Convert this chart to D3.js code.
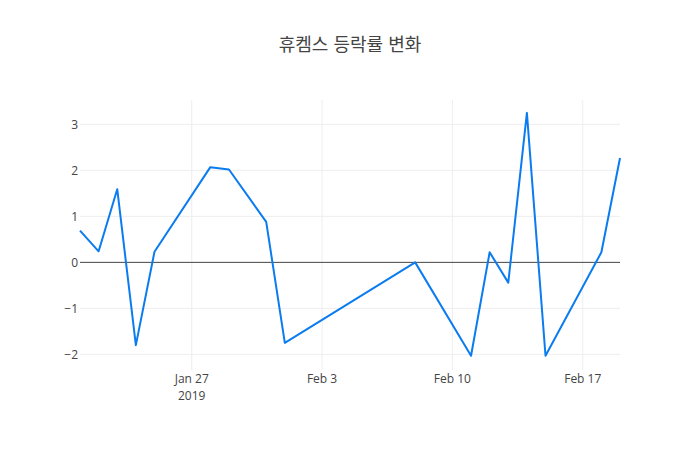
<!DOCTYPE html>
<html lang="ko">
<head>
<meta charset="UTF-8">
<title>휴켐스 등락률 변화</title>
<style>
  body { margin: 0; background: #fff; }
  svg { display: block; font-family: "Open Sans", "Noto Sans CJK KR", sans-serif; }
</style>
<script src="https://d3js.org/d3.v7.min.js"></script>
</head>
<body>
<svg id="chart" width="700" height="450"></svg>
<script>
const dates = ["2019-01-21", "2019-01-22", "2019-01-23", "2019-01-24", "2019-01-25",
  "2019-01-28", "2019-01-29", "2019-01-31", "2019-02-01", "2019-02-08",
  "2019-02-11", "2019-02-12", "2019-02-13", "2019-02-14", "2019-02-15",
  "2019-02-18", "2019-02-19"];
const changes = [0.69, 0.24, 1.59, -1.80, 0.23, 2.07, 2.02, 0.88, -1.75, 0.00,
  -2.03, 0.22, -0.44, 3.25, -2.03, 0.22, 2.27];
const yTicks = [-2, -1, 0, 1, 2, 3];
const xTicks = ["2019-01-27", "2019-02-03", "2019-02-10", "2019-02-17"];
const title = "휴켐스 등락률 변화";

const width = 700, height = 450;
const margin = { top: 100, right: 80, bottom: 80, left: 80 };
const svg = d3.select("#chart");
const parse = d3.timeParse("%Y-%m-%d");
const data = dates.map((d, i) => ({ date: parse(d), value: changes[i] }));

const x = d3.scaleTime()
  .domain(d3.extent(data, d => d.date))
  .range([margin.left, width - margin.right]);
const y = d3.scaleLinear()
  .domain([-2.34, 3.53])
  .range([height - margin.bottom, margin.top]);

// grid
svg.append("g").selectAll("line").data(yTicks.filter(t => t !== 0)).join("line")
  .attr("x1", margin.left).attr("x2", width - margin.right)
  .attr("y1", d => y(d)).attr("y2", d => y(d))
  .attr("stroke", "#eee").attr("stroke-width", 1);
svg.append("g").selectAll("line").data(xTicks.map(parse)).join("line")
  .attr("x1", d => x(d)).attr("x2", d => x(d))
  .attr("y1", margin.top).attr("y2", height - margin.bottom)
  .attr("stroke", "#eee").attr("stroke-width", 1);

// zero line
svg.append("line")
  .attr("x1", margin.left).attr("x2", width - margin.right)
  .attr("y1", y(0)).attr("y2", y(0))
  .attr("stroke", "#444").attr("stroke-width", 1);

// y tick labels
svg.append("g").selectAll("text").data(yTicks).join("text")
  .attr("x", margin.left - 2).attr("y", d => y(d)).attr("dy", "0.35em")
  .attr("text-anchor", "end").attr("font-size", 12).attr("fill", "#444")
  .text(d => d < 0 ? "\u2212" + Math.abs(d) : d);

// x tick labels
const xl = svg.append("g").selectAll("text").data(xTicks.map(parse)).join("text")
  .attr("x", d => x(d)).attr("y", 383)
  .attr("text-anchor", "middle").attr("font-size", 12).attr("fill", "#444");
xl.append("tspan").attr("x", d => x(d)).text(d3.timeFormat("%b %-d"));
xl.filter((d, i) => i === 0).append("tspan")
  .attr("x", d => x(d)).attr("dy", 17).text(d3.timeFormat("%Y"));

// line
const line = d3.line().x(d => x(d.date)).y(d => y(d.value));
svg.append("path").datum(data)
  .attr("d", line).attr("fill", "none")
  .attr("stroke", "#0b7cf0").attr("stroke-width", 2)
  .attr("stroke-linejoin", "round");

// title
svg.append("text")
  .attr("x", width / 2).attr("y", 51)
  .attr("text-anchor", "middle").attr("font-size", 18).attr("fill", "#444")
  .attr("font-family", "'Noto Sans CJK KR', sans-serif")
  .text(title);
</script>
</body>
</html>
